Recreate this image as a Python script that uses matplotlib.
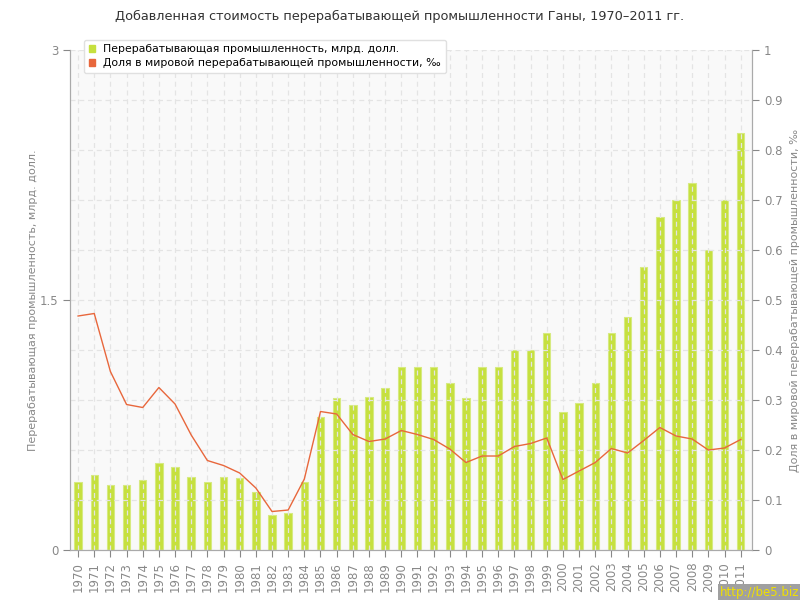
import numpy as np
import matplotlib
matplotlib.use("Agg")
import matplotlib.pyplot as plt
from matplotlib.patches import Patch

# data
years = list(range(1970, 2012))
value_bn = [0.41, 0.45, 0.39, 0.39, 0.42, 0.52, 0.50, 0.44, 0.41, 0.44,
            0.43, 0.35, 0.21, 0.22, 0.41, 0.80, 0.91, 0.87, 0.92, 0.97,
            1.10, 1.10, 1.10, 1.00, 0.91, 1.10, 1.10, 1.20, 1.20, 1.30,
            0.83, 0.88, 1.00, 1.30, 1.40, 1.70, 2.00, 2.10, 2.20, 1.80,
            2.10, 2.50]
share_pm = [0.468, 0.473, 0.357, 0.291, 0.285, 0.325, 0.292, 0.230, 0.179, 0.169,
            0.154, 0.124, 0.077, 0.080, 0.142, 0.277, 0.272, 0.231, 0.217, 0.222,
            0.239, 0.231, 0.221, 0.202, 0.175, 0.188, 0.188, 0.207, 0.213, 0.224,
            0.141, 0.158, 0.175, 0.203, 0.194, 0.219, 0.245, 0.228, 0.222, 0.200,
            0.204, 0.221]

title = "Добавленная стоимость перерабатывающей промышленности Ганы, 1970–2011 гг."
lab_bars = "Перерабатывающая промышленность, млрд. долл."
lab_line = "Доля в мировой перерабатывающей промышленности, ‰"

grey = "#888888"
green = "#c6e03e"
orange = "#e8673c"
x = np.arange(len(years))

fig = plt.figure(figsize=(8, 6), dpi=100)
ax1 = fig.add_axes([0.0875, 0.0833, 0.8525, 0.8334])
ax2 = ax1.twinx()

ax1.set_facecolor("#f9f9f9")
ax1.bar(x, value_bn, width=0.46, color=green, edgecolor="#d6ea80",
        linewidth=0.8, zorder=1)
ax2.plot(x, share_pm, color=orange, lw=1.0, zorder=3)

ax1.set_xlim(-0.5, 41.7)
ax1.set_ylim(0, 3)
ax2.set_ylim(0, 1)
ax1.set_yticks([0, 1.5, 3])
ax1.set_yticklabels(["0", "1.5", "3"])
ax2.set_yticks(np.arange(0, 1.01, 0.1))
ax2.set_yticklabels(["0"] + ["%.1f" % v for v in np.arange(0.1, 0.95, 0.1)] + ["1"])
ax1.set_xticks(x)
ax1.set_xticklabels([str(y) for y in years], rotation=90)

# grid: vertical on ax1 (over bars), horizontal on ax2
ax1.set_axisbelow(False)
ax1.xaxis.grid(True, ls=(0, (4, 3)), color="#e4e4e4", lw=0.9, zorder=2)
ax2.yaxis.grid(True, ls=(0, (4, 3)), color="#e4e4e4", lw=0.9, zorder=2)

for ax in (ax1, ax2):
    ax.spines["top"].set_visible(False)
    for s in ("left", "right", "bottom"):
        ax.spines[s].set_color("#aaaaaa")
    ax.tick_params(colors=grey, labelsize=8.5, length=5, width=0.8)
    ax.tick_params(axis="both", labelcolor=grey)

ax1.set_ylabel(lab_bars, color=grey, fontsize=8)
ax2.set_ylabel(lab_line, color=grey, fontsize=8)
ax1.yaxis.set_label_coords(-0.047, 0.5)
ax2.yaxis.set_label_coords(1.056, 0.5)

fig.text(0.5, 0.972, title, ha="center", va="center", fontsize=9.3, color="#333333")

handles = [Patch(color=green), Patch(color=orange)]
leg = fig.legend(handles, [lab_bars, lab_line], loc="upper left",
                 bbox_to_anchor=(0.098, 0.943), fontsize=7.8, frameon=True,
                 fancybox=True, handlelength=0.55, handleheight=0.55,
                 handletextpad=0.8, borderpad=0.45, labelspacing=0.35)
leg.get_frame().set_edgecolor("#e0e0e0")
leg.get_frame().set_facecolor("white")
leg.get_frame().set_alpha(1)

fig.text(0.999, 0.002, "http://be5.biz", ha="right", va="bottom", fontsize=8.5,
         color="#f0e000", bbox=dict(facecolor="#a0a0a0", edgecolor="none", pad=1.5))

fig.savefig("out.png", dpi=100)
